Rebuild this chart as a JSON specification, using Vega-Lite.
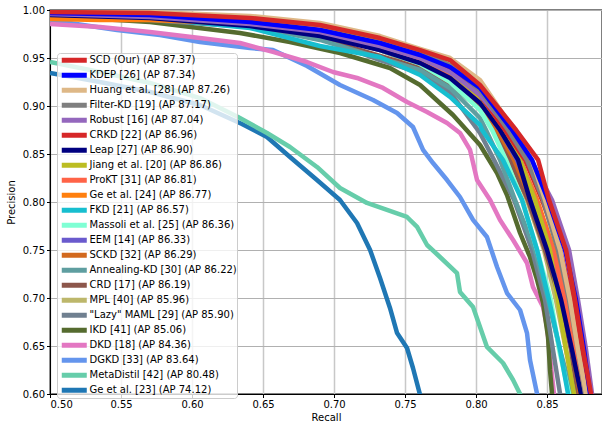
{
  "$schema": "https://vega.github.io/schema/vega-lite/v6.json",
  "width": 552,
  "height": 384,
  "autosize": "none",
  "padding": {"left": 50, "top": 10, "right": 0, "bottom": 31},
  "background": "white",
  "config": {
    "view": {"stroke": "#555555", "strokeWidth": 1.5},
    "font": "DejaVu Sans",
    "axis": {"labelFont": "DejaVu Sans", "labelFontSize": 10, "labelColor": "#000000", "tickColor": "#000000", "tickSize": 3.5, "domainColor": "#000000", "domainWidth": 1, "titleFont": "DejaVu Sans", "titleFontSize": 10, "titleFontWeight": "normal", "titleColor": "#000000"},
    "legend": {"labelFont": "DejaVu Sans", "labelFontSize": 10, "labelColor": "#000000", "labelLimit": 300}
  },
  "data": {"values": [
    {"m":"Ge et al. [23] (AP 74.12)","x":0.5,"y":0.9344},{"m":"Ge et al. [23] (AP 74.12)","x":0.5352,"y":0.925},{"m":"Ge et al. [23] (AP 74.12)","x":0.5704,"y":0.9146},{"m":"Ge et al. [23] (AP 74.12)","x":0.6056,"y":0.901},{"m":"Ge et al. [23] (AP 74.12)","x":0.6352,"y":0.8813},{"m":"Ge et al. [23] (AP 74.12)","x":0.6528,"y":0.8677},{"m":"Ge et al. [23] (AP 74.12)","x":0.669,"y":0.8469},{"m":"Ge et al. [23] (AP 74.12)","x":0.688,"y":0.8229},{"m":"Ge et al. [23] (AP 74.12)","x":0.7042,"y":0.8021},{"m":"Ge et al. [23] (AP 74.12)","x":0.7162,"y":0.7781},{"m":"Ge et al. [23] (AP 74.12)","x":0.7254,"y":0.75},{"m":"Ge et al. [23] (AP 74.12)","x":0.7324,"y":0.7208},{"m":"Ge et al. [23] (AP 74.12)","x":0.7394,"y":0.6896},{"m":"Ge et al. [23] (AP 74.12)","x":0.7444,"y":0.6635},{"m":"Ge et al. [23] (AP 74.12)","x":0.7514,"y":0.6479},{"m":"Ge et al. [23] (AP 74.12)","x":0.7556,"y":0.6271},{"m":"Ge et al. [23] (AP 74.12)","x":0.7606,"y":0.599},{"m":"Ge et al. [23] (AP 74.12)","x":0.7641,"y":0.5729},

    {"m":"MetaDistil [42] (AP 80.48)","x":0.5,"y":0.9458},{"m":"MetaDistil [42] (AP 80.48)","x":0.5352,"y":0.9354},{"m":"MetaDistil [42] (AP 80.48)","x":0.5704,"y":0.924},{"m":"MetaDistil [42] (AP 80.48)","x":0.6056,"y":0.9083},{"m":"MetaDistil [42] (AP 80.48)","x":0.6324,"y":0.8885},{"m":"MetaDistil [42] (AP 80.48)","x":0.6528,"y":0.8719},{"m":"MetaDistil [42] (AP 80.48)","x":0.669,"y":0.8573},{"m":"MetaDistil [42] (AP 80.48)","x":0.688,"y":0.8365},{"m":"MetaDistil [42] (AP 80.48)","x":0.7042,"y":0.8146},{"m":"MetaDistil [42] (AP 80.48)","x":0.7232,"y":0.799},{"m":"MetaDistil [42] (AP 80.48)","x":0.7373,"y":0.7917},{"m":"MetaDistil [42] (AP 80.48)","x":0.7514,"y":0.7844},{"m":"MetaDistil [42] (AP 80.48)","x":0.7585,"y":0.774},{"m":"MetaDistil [42] (AP 80.48)","x":0.7655,"y":0.7552},{"m":"MetaDistil [42] (AP 80.48)","x":0.7746,"y":0.7427},{"m":"MetaDistil [42] (AP 80.48)","x":0.7866,"y":0.726},{"m":"MetaDistil [42] (AP 80.48)","x":0.7887,"y":0.7063},{"m":"MetaDistil [42] (AP 80.48)","x":0.7979,"y":0.6906},{"m":"MetaDistil [42] (AP 80.48)","x":0.8028,"y":0.6698},{"m":"MetaDistil [42] (AP 80.48)","x":0.8077,"y":0.649},{"m":"MetaDistil [42] (AP 80.48)","x":0.819,"y":0.6323},{"m":"MetaDistil [42] (AP 80.48)","x":0.8261,"y":0.6146},{"m":"MetaDistil [42] (AP 80.48)","x":0.831,"y":0.6},{"m":"MetaDistil [42] (AP 80.48)","x":0.8345,"y":0.5833},

    {"m":"DGKD [33] (AP 83.64)","x":0.5,"y":0.9896},{"m":"DGKD [33] (AP 83.64)","x":0.5232,"y":0.9844},{"m":"DGKD [33] (AP 83.64)","x":0.5472,"y":0.9792},{"m":"DGKD [33] (AP 83.64)","x":0.5775,"y":0.974},{"m":"DGKD [33] (AP 83.64)","x":0.6056,"y":0.9667},{"m":"DGKD [33] (AP 83.64)","x":0.6408,"y":0.9604},{"m":"DGKD [33] (AP 83.64)","x":0.657,"y":0.9583},{"m":"DGKD [33] (AP 83.64)","x":0.681,"y":0.9417},{"m":"DGKD [33] (AP 83.64)","x":0.7042,"y":0.9219},{"m":"DGKD [33] (AP 83.64)","x":0.7275,"y":0.9063},{"m":"DGKD [33] (AP 83.64)","x":0.7444,"y":0.8927},{"m":"DGKD [33] (AP 83.64)","x":0.7556,"y":0.8781},{"m":"DGKD [33] (AP 83.64)","x":0.7627,"y":0.8542},{"m":"DGKD [33] (AP 83.64)","x":0.7697,"y":0.8406},{"m":"DGKD [33] (AP 83.64)","x":0.7796,"y":0.8229},{"m":"DGKD [33] (AP 83.64)","x":0.7887,"y":0.8052},{"m":"DGKD [33] (AP 83.64)","x":0.7979,"y":0.7813},{"m":"DGKD [33] (AP 83.64)","x":0.8077,"y":0.7635},{"m":"DGKD [33] (AP 83.64)","x":0.8148,"y":0.7323},{"m":"DGKD [33] (AP 83.64)","x":0.8218,"y":0.7052},{"m":"DGKD [33] (AP 83.64)","x":0.831,"y":0.6875},{"m":"DGKD [33] (AP 83.64)","x":0.8359,"y":0.6635},{"m":"DGKD [33] (AP 83.64)","x":0.838,"y":0.6354},{"m":"DGKD [33] (AP 83.64)","x":0.843,"y":0.6},{"m":"DGKD [33] (AP 83.64)","x":0.8451,"y":0.5729},

    {"m":"DKD [18] (AP 84.36)","x":0.5,"y":0.9854},{"m":"DKD [18] (AP 84.36)","x":0.5352,"y":0.9823},{"m":"DKD [18] (AP 84.36)","x":0.5704,"y":0.9771},{"m":"DKD [18] (AP 84.36)","x":0.6056,"y":0.9708},{"m":"DKD [18] (AP 84.36)","x":0.6338,"y":0.9656},{"m":"DKD [18] (AP 84.36)","x":0.657,"y":0.9563},{"m":"DKD [18] (AP 84.36)","x":0.681,"y":0.9458},{"m":"DKD [18] (AP 84.36)","x":0.6993,"y":0.9354},{"m":"DKD [18] (AP 84.36)","x":0.7162,"y":0.9292},{"m":"DKD [18] (AP 84.36)","x":0.7345,"y":0.9188},{"m":"DKD [18] (AP 84.36)","x":0.7514,"y":0.9042},{"m":"DKD [18] (AP 84.36)","x":0.7655,"y":0.8938},{"m":"DKD [18] (AP 84.36)","x":0.7796,"y":0.8823},{"m":"DKD [18] (AP 84.36)","x":0.7887,"y":0.8719},{"m":"DKD [18] (AP 84.36)","x":0.7958,"y":0.8542},{"m":"DKD [18] (AP 84.36)","x":0.8007,"y":0.8229},{"m":"DKD [18] (AP 84.36)","x":0.8099,"y":0.8021},{"m":"DKD [18] (AP 84.36)","x":0.8169,"y":0.7813},{"m":"DKD [18] (AP 84.36)","x":0.8261,"y":0.7604},{"m":"DKD [18] (AP 84.36)","x":0.8359,"y":0.7365},{"m":"DKD [18] (AP 84.36)","x":0.8401,"y":0.7115},{"m":"DKD [18] (AP 84.36)","x":0.8472,"y":0.6906},{"m":"DKD [18] (AP 84.36)","x":0.85,"y":0.6698},{"m":"DKD [18] (AP 84.36)","x":0.8521,"y":0.6385},{"m":"DKD [18] (AP 84.36)","x":0.8549,"y":0.6},{"m":"DKD [18] (AP 84.36)","x":0.8563,"y":0.5729},

    {"m":"IKD [41] (AP 85.06)","x":0.5,"y":0.9938},{"m":"IKD [41] (AP 85.06)","x":0.5704,"y":0.9875},{"m":"IKD [41] (AP 85.06)","x":0.6338,"y":0.976},{"m":"IKD [41] (AP 85.06)","x":0.669,"y":0.9667},{"m":"IKD [41] (AP 85.06)","x":0.7042,"y":0.9552},{"m":"IKD [41] (AP 85.06)","x":0.7394,"y":0.9396},{"m":"IKD [41] (AP 85.06)","x":0.7606,"y":0.9219},{"m":"IKD [41] (AP 85.06)","x":0.7838,"y":0.8906},{"m":"IKD [41] (AP 85.06)","x":0.8028,"y":0.8594},{"m":"IKD [41] (AP 85.06)","x":0.8148,"y":0.8302},{"m":"IKD [41] (AP 85.06)","x":0.8218,"y":0.8073},{"m":"IKD [41] (AP 85.06)","x":0.831,"y":0.7677},{"m":"IKD [41] (AP 85.06)","x":0.838,"y":0.7427},{"m":"IKD [41] (AP 85.06)","x":0.843,"y":0.7188},{"m":"IKD [41] (AP 85.06)","x":0.8472,"y":0.6948},{"m":"IKD [41] (AP 85.06)","x":0.8507,"y":0.6594},{"m":"IKD [41] (AP 85.06)","x":0.8521,"y":0.625},{"m":"IKD [41] (AP 85.06)","x":0.8535,"y":0.6},{"m":"IKD [41] (AP 85.06)","x":0.8542,"y":0.5729},

    {"m":"\"Lazy\" MAML [29] (AP 85.90)","x":0.5,"y":0.9938},{"m":"\"Lazy\" MAML [29] (AP 85.90)","x":0.5704,"y":0.9896},{"m":"\"Lazy\" MAML [29] (AP 85.90)","x":0.6408,"y":0.9823},{"m":"\"Lazy\" MAML [29] (AP 85.90)","x":0.6901,"y":0.9708},{"m":"\"Lazy\" MAML [29] (AP 85.90)","x":0.7324,"y":0.9479},{"m":"\"Lazy\" MAML [29] (AP 85.90)","x":0.7606,"y":0.9344},{"m":"\"Lazy\" MAML [29] (AP 85.90)","x":0.7817,"y":0.9146},{"m":"\"Lazy\" MAML [29] (AP 85.90)","x":0.8028,"y":0.8719},{"m":"\"Lazy\" MAML [29] (AP 85.90)","x":0.8127,"y":0.8438},{"m":"\"Lazy\" MAML [29] (AP 85.90)","x":0.8268,"y":0.8021},{"m":"\"Lazy\" MAML [29] (AP 85.90)","x":0.8394,"y":0.75},{"m":"\"Lazy\" MAML [29] (AP 85.90)","x":0.8486,"y":0.6979},{"m":"\"Lazy\" MAML [29] (AP 85.90)","x":0.8542,"y":0.6458},{"m":"\"Lazy\" MAML [29] (AP 85.90)","x":0.8592,"y":0.6},{"m":"\"Lazy\" MAML [29] (AP 85.90)","x":0.8613,"y":0.5729},

    {"m":"MPL [40] (AP 85.96)","x":0.5,"y":0.9979},{"m":"MPL [40] (AP 85.96)","x":0.5704,"y":0.9948},{"m":"MPL [40] (AP 85.96)","x":0.6408,"y":0.9875},{"m":"MPL [40] (AP 85.96)","x":0.6901,"y":0.9771},{"m":"MPL [40] (AP 85.96)","x":0.7324,"y":0.9583},{"m":"MPL [40] (AP 85.96)","x":0.7606,"y":0.9417},{"m":"MPL [40] (AP 85.96)","x":0.7817,"y":0.925},{"m":"MPL [40] (AP 85.96)","x":0.8028,"y":0.899},{"m":"MPL [40] (AP 85.96)","x":0.8127,"y":0.875},{"m":"MPL [40] (AP 85.96)","x":0.8239,"y":0.8438},{"m":"MPL [40] (AP 85.96)","x":0.8359,"y":0.8021},{"m":"MPL [40] (AP 85.96)","x":0.8479,"y":0.75},{"m":"MPL [40] (AP 85.96)","x":0.8563,"y":0.6979},{"m":"MPL [40] (AP 85.96)","x":0.8634,"y":0.6458},{"m":"MPL [40] (AP 85.96)","x":0.8704,"y":0.6},{"m":"MPL [40] (AP 85.96)","x":0.8732,"y":0.5729},

    {"m":"CRD [17] (AP 86.19)","x":0.5,"y":0.9958},{"m":"CRD [17] (AP 86.19)","x":0.5704,"y":0.9917},{"m":"CRD [17] (AP 86.19)","x":0.6408,"y":0.9833},{"m":"CRD [17] (AP 86.19)","x":0.6901,"y":0.9708},{"m":"CRD [17] (AP 86.19)","x":0.7324,"y":0.9521},{"m":"CRD [17] (AP 86.19)","x":0.7606,"y":0.9396},{"m":"CRD [17] (AP 86.19)","x":0.7817,"y":0.9219},{"m":"CRD [17] (AP 86.19)","x":0.8028,"y":0.8979},{"m":"CRD [17] (AP 86.19)","x":0.812,"y":0.875},{"m":"CRD [17] (AP 86.19)","x":0.8239,"y":0.8438},{"m":"CRD [17] (AP 86.19)","x":0.8366,"y":0.8021},{"m":"CRD [17] (AP 86.19)","x":0.8486,"y":0.75},{"m":"CRD [17] (AP 86.19)","x":0.8592,"y":0.6979},{"m":"CRD [17] (AP 86.19)","x":0.8669,"y":0.6458},{"m":"CRD [17] (AP 86.19)","x":0.8718,"y":0.6},{"m":"CRD [17] (AP 86.19)","x":0.8746,"y":0.5729},

    {"m":"Annealing-KD [30] (AP 86.22)","x":0.5,"y":0.9969},{"m":"Annealing-KD [30] (AP 86.22)","x":0.5704,"y":0.9927},{"m":"Annealing-KD [30] (AP 86.22)","x":0.6408,"y":0.9833},{"m":"Annealing-KD [30] (AP 86.22)","x":0.6901,"y":0.9688},{"m":"Annealing-KD [30] (AP 86.22)","x":0.7324,"y":0.95},{"m":"Annealing-KD [30] (AP 86.22)","x":0.7606,"y":0.9375},{"m":"Annealing-KD [30] (AP 86.22)","x":0.7817,"y":0.9188},{"m":"Annealing-KD [30] (AP 86.22)","x":0.8028,"y":0.8875},{"m":"Annealing-KD [30] (AP 86.22)","x":0.807,"y":0.875},{"m":"Annealing-KD [30] (AP 86.22)","x":0.8169,"y":0.8438},{"m":"Annealing-KD [30] (AP 86.22)","x":0.8275,"y":0.8021},{"m":"Annealing-KD [30] (AP 86.22)","x":0.8415,"y":0.75},{"m":"Annealing-KD [30] (AP 86.22)","x":0.8507,"y":0.6979},{"m":"Annealing-KD [30] (AP 86.22)","x":0.8592,"y":0.6458},{"m":"Annealing-KD [30] (AP 86.22)","x":0.8676,"y":0.6},{"m":"Annealing-KD [30] (AP 86.22)","x":0.8704,"y":0.5729},

    {"m":"SCKD [32] (AP 86.29)","x":0.5,"y":0.9958},{"m":"SCKD [32] (AP 86.29)","x":0.5704,"y":0.9927},{"m":"SCKD [32] (AP 86.29)","x":0.6408,"y":0.9854},{"m":"SCKD [32] (AP 86.29)","x":0.6901,"y":0.975},{"m":"SCKD [32] (AP 86.29)","x":0.7324,"y":0.9583},{"m":"SCKD [32] (AP 86.29)","x":0.7606,"y":0.9438},{"m":"SCKD [32] (AP 86.29)","x":0.7817,"y":0.9292},{"m":"SCKD [32] (AP 86.29)","x":0.8028,"y":0.9031},{"m":"SCKD [32] (AP 86.29)","x":0.8148,"y":0.875},{"m":"SCKD [32] (AP 86.29)","x":0.8268,"y":0.8438},{"m":"SCKD [32] (AP 86.29)","x":0.8387,"y":0.8021},{"m":"SCKD [32] (AP 86.29)","x":0.8507,"y":0.75},{"m":"SCKD [32] (AP 86.29)","x":0.8606,"y":0.6979},{"m":"SCKD [32] (AP 86.29)","x":0.8683,"y":0.6458},{"m":"SCKD [32] (AP 86.29)","x":0.8732,"y":0.6},{"m":"SCKD [32] (AP 86.29)","x":0.8761,"y":0.5729},

    {"m":"EEM [14] (AP 86.33)","x":0.5,"y":0.9969},{"m":"EEM [14] (AP 86.33)","x":0.5704,"y":0.9938},{"m":"EEM [14] (AP 86.33)","x":0.6408,"y":0.9875},{"m":"EEM [14] (AP 86.33)","x":0.6901,"y":0.9781},{"m":"EEM [14] (AP 86.33)","x":0.7324,"y":0.9625},{"m":"EEM [14] (AP 86.33)","x":0.7606,"y":0.9479},{"m":"EEM [14] (AP 86.33)","x":0.7817,"y":0.9333},{"m":"EEM [14] (AP 86.33)","x":0.8028,"y":0.9083},{"m":"EEM [14] (AP 86.33)","x":0.8169,"y":0.875},{"m":"EEM [14] (AP 86.33)","x":0.8289,"y":0.8438},{"m":"EEM [14] (AP 86.33)","x":0.8401,"y":0.8021},{"m":"EEM [14] (AP 86.33)","x":0.8521,"y":0.75},{"m":"EEM [14] (AP 86.33)","x":0.8613,"y":0.6979},{"m":"EEM [14] (AP 86.33)","x":0.869,"y":0.6458},{"m":"EEM [14] (AP 86.33)","x":0.8746,"y":0.6},{"m":"EEM [14] (AP 86.33)","x":0.8775,"y":0.5729},

    {"m":"Massoli et al. [25] (AP 86.36)","x":0.5,"y":0.9979},{"m":"Massoli et al. [25] (AP 86.36)","x":0.5704,"y":0.9948},{"m":"Massoli et al. [25] (AP 86.36)","x":0.6408,"y":0.9875},{"m":"Massoli et al. [25] (AP 86.36)","x":0.6901,"y":0.976},{"m":"Massoli et al. [25] (AP 86.36)","x":0.7324,"y":0.9583},{"m":"Massoli et al. [25] (AP 86.36)","x":0.7606,"y":0.9438},{"m":"Massoli et al. [25] (AP 86.36)","x":0.7817,"y":0.925},{"m":"Massoli et al. [25] (AP 86.36)","x":0.8028,"y":0.8958},{"m":"Massoli et al. [25] (AP 86.36)","x":0.8113,"y":0.875},{"m":"Massoli et al. [25] (AP 86.36)","x":0.8211,"y":0.8438},{"m":"Massoli et al. [25] (AP 86.36)","x":0.8324,"y":0.8021},{"m":"Massoli et al. [25] (AP 86.36)","x":0.843,"y":0.75},{"m":"Massoli et al. [25] (AP 86.36)","x":0.8528,"y":0.6979},{"m":"Massoli et al. [25] (AP 86.36)","x":0.8585,"y":0.6458},{"m":"Massoli et al. [25] (AP 86.36)","x":0.8655,"y":0.6},{"m":"Massoli et al. [25] (AP 86.36)","x":0.8683,"y":0.5729},

    {"m":"FKD [21] (AP 86.57)","x":0.5,"y":0.9948},{"m":"FKD [21] (AP 86.57)","x":0.5704,"y":0.9917},{"m":"FKD [21] (AP 86.57)","x":0.6408,"y":0.9813},{"m":"FKD [21] (AP 86.57)","x":0.6901,"y":0.9625},{"m":"FKD [21] (AP 86.57)","x":0.7324,"y":0.951},{"m":"FKD [21] (AP 86.57)","x":0.7606,"y":0.9323},{"m":"FKD [21] (AP 86.57)","x":0.7817,"y":0.9094},{"m":"FKD [21] (AP 86.57)","x":0.8028,"y":0.8802},{"m":"FKD [21] (AP 86.57)","x":0.8042,"y":0.875},{"m":"FKD [21] (AP 86.57)","x":0.819,"y":0.8438},{"m":"FKD [21] (AP 86.57)","x":0.8324,"y":0.8021},{"m":"FKD [21] (AP 86.57)","x":0.843,"y":0.75},{"m":"FKD [21] (AP 86.57)","x":0.8514,"y":0.6979},{"m":"FKD [21] (AP 86.57)","x":0.8592,"y":0.6458},{"m":"FKD [21] (AP 86.57)","x":0.8648,"y":0.6},{"m":"FKD [21] (AP 86.57)","x":0.8676,"y":0.5729},

    {"m":"Ge et al. [24] (AP 86.77)","x":0.5,"y":0.9906},{"m":"Ge et al. [24] (AP 86.77)","x":0.5352,"y":0.9896},{"m":"Ge et al. [24] (AP 86.77)","x":0.5704,"y":0.9896},{"m":"Ge et al. [24] (AP 86.77)","x":0.6408,"y":0.9854},{"m":"Ge et al. [24] (AP 86.77)","x":0.6901,"y":0.976},{"m":"Ge et al. [24] (AP 86.77)","x":0.7324,"y":0.9604},{"m":"Ge et al. [24] (AP 86.77)","x":0.7606,"y":0.9458},{"m":"Ge et al. [24] (AP 86.77)","x":0.7817,"y":0.9313},{"m":"Ge et al. [24] (AP 86.77)","x":0.8028,"y":0.9063},{"m":"Ge et al. [24] (AP 86.77)","x":0.8183,"y":0.875},{"m":"Ge et al. [24] (AP 86.77)","x":0.831,"y":0.8438},{"m":"Ge et al. [24] (AP 86.77)","x":0.843,"y":0.8021},{"m":"Ge et al. [24] (AP 86.77)","x":0.8549,"y":0.75},{"m":"Ge et al. [24] (AP 86.77)","x":0.8634,"y":0.6979},{"m":"Ge et al. [24] (AP 86.77)","x":0.8711,"y":0.6458},{"m":"Ge et al. [24] (AP 86.77)","x":0.8768,"y":0.6},{"m":"Ge et al. [24] (AP 86.77)","x":0.8796,"y":0.5729},

    {"m":"ProKT [31] (AP 86.81)","x":0.5,"y":0.9958},{"m":"ProKT [31] (AP 86.81)","x":0.5704,"y":0.9927},{"m":"ProKT [31] (AP 86.81)","x":0.6408,"y":0.9844},{"m":"ProKT [31] (AP 86.81)","x":0.6901,"y":0.975},{"m":"ProKT [31] (AP 86.81)","x":0.7324,"y":0.9604},{"m":"ProKT [31] (AP 86.81)","x":0.7606,"y":0.9479},{"m":"ProKT [31] (AP 86.81)","x":0.7817,"y":0.9333},{"m":"ProKT [31] (AP 86.81)","x":0.8028,"y":0.9063},{"m":"ProKT [31] (AP 86.81)","x":0.819,"y":0.875},{"m":"ProKT [31] (AP 86.81)","x":0.831,"y":0.8438},{"m":"ProKT [31] (AP 86.81)","x":0.8423,"y":0.8021},{"m":"ProKT [31] (AP 86.81)","x":0.8542,"y":0.75},{"m":"ProKT [31] (AP 86.81)","x":0.8627,"y":0.6979},{"m":"ProKT [31] (AP 86.81)","x":0.8697,"y":0.6458},{"m":"ProKT [31] (AP 86.81)","x":0.8754,"y":0.6},{"m":"ProKT [31] (AP 86.81)","x":0.8782,"y":0.5729},

    {"m":"Jiang et al. [20] (AP 86.86)","x":0.5,"y":0.9979},{"m":"Jiang et al. [20] (AP 86.86)","x":0.5704,"y":0.9958},{"m":"Jiang et al. [20] (AP 86.86)","x":0.6408,"y":0.9917},{"m":"Jiang et al. [20] (AP 86.86)","x":0.6901,"y":0.9844},{"m":"Jiang et al. [20] (AP 86.86)","x":0.7324,"y":0.9667},{"m":"Jiang et al. [20] (AP 86.86)","x":0.7606,"y":0.95},{"m":"Jiang et al. [20] (AP 86.86)","x":0.7817,"y":0.9354},{"m":"Jiang et al. [20] (AP 86.86)","x":0.8028,"y":0.9094},{"m":"Jiang et al. [20] (AP 86.86)","x":0.819,"y":0.875},{"m":"Jiang et al. [20] (AP 86.86)","x":0.831,"y":0.8438},{"m":"Jiang et al. [20] (AP 86.86)","x":0.8415,"y":0.8021},{"m":"Jiang et al. [20] (AP 86.86)","x":0.8521,"y":0.75},{"m":"Jiang et al. [20] (AP 86.86)","x":0.8577,"y":0.6979},{"m":"Jiang et al. [20] (AP 86.86)","x":0.8634,"y":0.6458},{"m":"Jiang et al. [20] (AP 86.86)","x":0.869,"y":0.6},{"m":"Jiang et al. [20] (AP 86.86)","x":0.8718,"y":0.5729},

    {"m":"Leap [27] (AP 86.90)","x":0.5,"y":0.9948},{"m":"Leap [27] (AP 86.90)","x":0.5704,"y":0.9917},{"m":"Leap [27] (AP 86.90)","x":0.6408,"y":0.9833},{"m":"Leap [27] (AP 86.90)","x":0.6901,"y":0.9729},{"m":"Leap [27] (AP 86.90)","x":0.7324,"y":0.9583},{"m":"Leap [27] (AP 86.90)","x":0.7606,"y":0.9448},{"m":"Leap [27] (AP 86.90)","x":0.7817,"y":0.9292},{"m":"Leap [27] (AP 86.90)","x":0.8028,"y":0.9031},{"m":"Leap [27] (AP 86.90)","x":0.8169,"y":0.875},{"m":"Leap [27] (AP 86.90)","x":0.8296,"y":0.8438},{"m":"Leap [27] (AP 86.90)","x":0.838,"y":0.8021},{"m":"Leap [27] (AP 86.90)","x":0.85,"y":0.75},{"m":"Leap [27] (AP 86.90)","x":0.8599,"y":0.6979},{"m":"Leap [27] (AP 86.90)","x":0.8676,"y":0.6458},{"m":"Leap [27] (AP 86.90)","x":0.8739,"y":0.6},{"m":"Leap [27] (AP 86.90)","x":0.8768,"y":0.5729},

    {"m":"CRKD [22] (AP 86.96)","x":0.5,"y":0.9969},{"m":"CRKD [22] (AP 86.96)","x":0.5704,"y":0.9938},{"m":"CRKD [22] (AP 86.96)","x":0.6408,"y":0.9875},{"m":"CRKD [22] (AP 86.96)","x":0.6901,"y":0.9792},{"m":"CRKD [22] (AP 86.96)","x":0.7324,"y":0.9646},{"m":"CRKD [22] (AP 86.96)","x":0.7606,"y":0.951},{"m":"CRKD [22] (AP 86.96)","x":0.7817,"y":0.9375},{"m":"CRKD [22] (AP 86.96)","x":0.8028,"y":0.9115},{"m":"CRKD [22] (AP 86.96)","x":0.8204,"y":0.875},{"m":"CRKD [22] (AP 86.96)","x":0.8345,"y":0.8438},{"m":"CRKD [22] (AP 86.96)","x":0.8465,"y":0.8021},{"m":"CRKD [22] (AP 86.96)","x":0.8592,"y":0.75},{"m":"CRKD [22] (AP 86.96)","x":0.8676,"y":0.6979},{"m":"CRKD [22] (AP 86.96)","x":0.8732,"y":0.6458},{"m":"CRKD [22] (AP 86.96)","x":0.8782,"y":0.6},{"m":"CRKD [22] (AP 86.96)","x":0.881,"y":0.5729},

    {"m":"Robust [16] (AP 87.04)","x":0.5,"y":0.9958},{"m":"Robust [16] (AP 87.04)","x":0.5704,"y":0.9927},{"m":"Robust [16] (AP 87.04)","x":0.6408,"y":0.9854},{"m":"Robust [16] (AP 87.04)","x":0.6901,"y":0.9771},{"m":"Robust [16] (AP 87.04)","x":0.7324,"y":0.9625},{"m":"Robust [16] (AP 87.04)","x":0.7606,"y":0.95},{"m":"Robust [16] (AP 87.04)","x":0.7817,"y":0.9354},{"m":"Robust [16] (AP 87.04)","x":0.8028,"y":0.9115},{"m":"Robust [16] (AP 87.04)","x":0.8239,"y":0.875},{"m":"Robust [16] (AP 87.04)","x":0.8387,"y":0.8438},{"m":"Robust [16] (AP 87.04)","x":0.8535,"y":0.8021},{"m":"Robust [16] (AP 87.04)","x":0.8655,"y":0.75},{"m":"Robust [16] (AP 87.04)","x":0.8718,"y":0.6979},{"m":"Robust [16] (AP 87.04)","x":0.8775,"y":0.6458},{"m":"Robust [16] (AP 87.04)","x":0.8817,"y":0.6},{"m":"Robust [16] (AP 87.04)","x":0.8845,"y":0.5729},

    {"m":"Filter-KD [19] (AP 87.17)","x":0.5,"y":0.9979},{"m":"Filter-KD [19] (AP 87.17)","x":0.5704,"y":0.9958},{"m":"Filter-KD [19] (AP 87.17)","x":0.6408,"y":0.9906},{"m":"Filter-KD [19] (AP 87.17)","x":0.6901,"y":0.9844},{"m":"Filter-KD [19] (AP 87.17)","x":0.7324,"y":0.9708},{"m":"Filter-KD [19] (AP 87.17)","x":0.7606,"y":0.9563},{"m":"Filter-KD [19] (AP 87.17)","x":0.7817,"y":0.9427},{"m":"Filter-KD [19] (AP 87.17)","x":0.8028,"y":0.9167},{"m":"Filter-KD [19] (AP 87.17)","x":0.8225,"y":0.875},{"m":"Filter-KD [19] (AP 87.17)","x":0.8359,"y":0.8438},{"m":"Filter-KD [19] (AP 87.17)","x":0.8472,"y":0.8021},{"m":"Filter-KD [19] (AP 87.17)","x":0.8577,"y":0.75},{"m":"Filter-KD [19] (AP 87.17)","x":0.8655,"y":0.6979},{"m":"Filter-KD [19] (AP 87.17)","x":0.8718,"y":0.6458},{"m":"Filter-KD [19] (AP 87.17)","x":0.8768,"y":0.6},{"m":"Filter-KD [19] (AP 87.17)","x":0.8796,"y":0.5729},

    {"m":"Huang et al. [28] (AP 87.26)","x":0.5,"y":0.999},{"m":"Huang et al. [28] (AP 87.26)","x":0.5704,"y":0.9979},{"m":"Huang et al. [28] (AP 87.26)","x":0.6408,"y":0.9938},{"m":"Huang et al. [28] (AP 87.26)","x":0.6901,"y":0.9865},{"m":"Huang et al. [28] (AP 87.26)","x":0.7324,"y":0.9729},{"m":"Huang et al. [28] (AP 87.26)","x":0.7606,"y":0.9594},{"m":"Huang et al. [28] (AP 87.26)","x":0.7817,"y":0.95},{"m":"Huang et al. [28] (AP 87.26)","x":0.8028,"y":0.9271},{"m":"Huang et al. [28] (AP 87.26)","x":0.8268,"y":0.875},{"m":"Huang et al. [28] (AP 87.26)","x":0.8394,"y":0.8438},{"m":"Huang et al. [28] (AP 87.26)","x":0.8486,"y":0.8021},{"m":"Huang et al. [28] (AP 87.26)","x":0.8592,"y":0.75},{"m":"Huang et al. [28] (AP 87.26)","x":0.8662,"y":0.6979},{"m":"Huang et al. [28] (AP 87.26)","x":0.8718,"y":0.6458},{"m":"Huang et al. [28] (AP 87.26)","x":0.8775,"y":0.6},{"m":"Huang et al. [28] (AP 87.26)","x":0.8803,"y":0.5729},

    {"m":"KDEP [26] (AP 87.34)","x":0.5,"y":0.9969},{"m":"KDEP [26] (AP 87.34)","x":0.5704,"y":0.9948},{"m":"KDEP [26] (AP 87.34)","x":0.6408,"y":0.9875},{"m":"KDEP [26] (AP 87.34)","x":0.6901,"y":0.9792},{"m":"KDEP [26] (AP 87.34)","x":0.7324,"y":0.9656},{"m":"KDEP [26] (AP 87.34)","x":0.7606,"y":0.9531},{"m":"KDEP [26] (AP 87.34)","x":0.7817,"y":0.9406},{"m":"KDEP [26] (AP 87.34)","x":0.8028,"y":0.9188},{"m":"KDEP [26] (AP 87.34)","x":0.8254,"y":0.875},{"m":"KDEP [26] (AP 87.34)","x":0.8394,"y":0.8438},{"m":"KDEP [26] (AP 87.34)","x":0.8507,"y":0.8021},{"m":"KDEP [26] (AP 87.34)","x":0.8627,"y":0.75},{"m":"KDEP [26] (AP 87.34)","x":0.8704,"y":0.6979},{"m":"KDEP [26] (AP 87.34)","x":0.8761,"y":0.6458},{"m":"KDEP [26] (AP 87.34)","x":0.8803,"y":0.6},{"m":"KDEP [26] (AP 87.34)","x":0.8831,"y":0.5729},

    {"m":"SCD (Our) (AP 87.37)","x":0.5,"y":0.9979},{"m":"SCD (Our) (AP 87.37)","x":0.5704,"y":0.9969},{"m":"SCD (Our) (AP 87.37)","x":0.6408,"y":0.9917},{"m":"SCD (Our) (AP 87.37)","x":0.6901,"y":0.9844},{"m":"SCD (Our) (AP 87.37)","x":0.7324,"y":0.9708},{"m":"SCD (Our) (AP 87.37)","x":0.7606,"y":0.9583},{"m":"SCD (Our) (AP 87.37)","x":0.7817,"y":0.9479},{"m":"SCD (Our) (AP 87.37)","x":0.8028,"y":0.9219},{"m":"SCD (Our) (AP 87.37)","x":0.8282,"y":0.875},{"m":"SCD (Our) (AP 87.37)","x":0.8437,"y":0.8438},{"m":"SCD (Our) (AP 87.37)","x":0.8514,"y":0.8021},{"m":"SCD (Our) (AP 87.37)","x":0.8634,"y":0.75},{"m":"SCD (Our) (AP 87.37)","x":0.8697,"y":0.6979},{"m":"SCD (Our) (AP 87.37)","x":0.8754,"y":0.6458},{"m":"SCD (Our) (AP 87.37)","x":0.881,"y":0.6},{"m":"SCD (Our) (AP 87.37)","x":0.8838,"y":0.5729}
  ]},
  "mark": {"type": "line", "strokeWidth": 4.5, "clip": true, "strokeJoin": "round", "strokeCap": "butt"},
  "encoding": {
    "x": {"field": "x", "type": "quantitative", "title": "Recall",
      "scale": {"domain": [0.5, 0.8887], "nice": false, "zero": false},
      "axis": {"values": [0.5, 0.55, 0.6, 0.65, 0.7, 0.75, 0.8, 0.85], "format": ".2f", "gridColor": "#c8c8c8", "gridWidth": 1.5, "titlePadding": 3, "labelPadding": 2}},
    "y": {"field": "y", "type": "quantitative", "title": "Precision",
      "scale": {"domain": [0.6, 1.0], "nice": false, "zero": false},
      "axis": {"values": [0.6, 0.65, 0.7, 0.75, 0.8, 0.85, 0.9, 0.95, 1.0], "format": ".2f", "gridColor": "#b0b0b0", "gridWidth": 1, "titlePadding": 6, "labelPadding": 2}},
    "color": {"field": "m", "type": "nominal",
      "scale": {
        "domain": ["SCD (Our) (AP 87.37)", "KDEP [26] (AP 87.34)", "Huang et al. [28] (AP 87.26)", "Filter-KD [19] (AP 87.17)", "Robust [16] (AP 87.04)", "CRKD [22] (AP 86.96)", "Leap [27] (AP 86.90)", "Jiang et al. [20] (AP 86.86)", "ProKT [31] (AP 86.81)", "Ge et al. [24] (AP 86.77)", "FKD [21] (AP 86.57)", "Massoli et al. [25] (AP 86.36)", "EEM [14] (AP 86.33)", "SCKD [32] (AP 86.29)", "Annealing-KD [30] (AP 86.22)", "CRD [17] (AP 86.19)", "MPL [40] (AP 85.96)", "\"Lazy\" MAML [29] (AP 85.90)", "IKD [41] (AP 85.06)", "DKD [18] (AP 84.36)", "DGKD [33] (AP 83.64)", "MetaDistil [42] (AP 80.48)", "Ge et al. [23] (AP 74.12)"],
        "range": ["#d62728", "#0000ff", "#deb887", "#7f7f7f", "#9467bd", "#d62728", "#000080", "#bcbd22", "#ff6347", "#ff7f0e", "#17becf", "#7fffd4", "#6a5acd", "#d2691e", "#5f9ea0", "#8c564b", "#bdb76b", "#708090", "#556b2f", "#e377c2", "#6495ed", "#66cdaa", "#1f77b4"]
      },
      "legend": {"title": null, "orient": "none", "legendX": 7, "legendY": 43, "symbolType": "M-0.578,0H4.696", "symbolStrokeWidth": 5, "symbolSize": 90, "symbolOpacity": 1, "clipHeight": 14.55, "fillColor": "rgba(255,255,255,0.8)", "strokeColor": "#cccccc", "padding": 0, "cornerRadius": 3, "rowPadding": 0, "labelOffset": 17.5}
    }
  }
}
